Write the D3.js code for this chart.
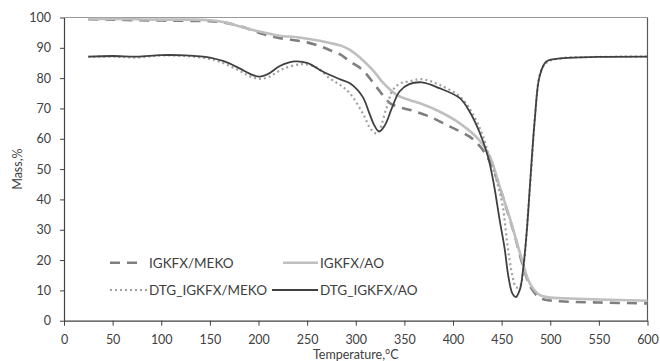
<!DOCTYPE html>
<html>
<head>
<meta charset="utf-8">
<script src="https://cdn.jsdelivr.net/npm/d3@7"></script>
<style>
  body { margin: 0; background: #fff; }
  svg text { font-family: Lato, "Open Sans", sans-serif; fill: #404040; }
</style>
</head>
<body>
<svg id="chart" width="660" height="361"></svg>
<script>
// TG / DTG curves
const tempMeko = [25, 50, 75, 100, 125, 150, 165, 180, 190, 200, 210, 222, 235, 250, 263, 273, 284, 294, 307, 322, 335, 345, 356, 376, 397, 417, 428, 437, 446, 455, 464, 472, 480, 488, 495, 510, 550, 600];
const massMeko = [99.4, 99.3, 99.1, 99.0, 98.9, 98.8, 98.3, 97.2, 96.2, 95.0, 94.1, 93.2, 92.6, 91.8, 90.6, 89.3, 87.8, 85.5, 82.7, 76.8, 71.8, 70.4, 69.5, 67.3, 64.0, 60.7, 57.4, 53.0, 46.0, 37.0, 27.5, 18.0, 11.0, 7.8, 6.9, 6.4, 6.0, 5.7];

const tempAo = [25, 50, 75, 100, 125, 150, 165, 181, 190, 201, 212, 222, 242, 263, 273, 284, 294, 307, 318, 328, 342, 355, 366, 386, 407, 427, 438, 448, 458, 469, 479, 489, 500, 513, 550, 600];
const massAo = [99.5, 99.5, 99.4, 99.3, 99.3, 99.1, 98.4, 97.0, 96.2, 95.4, 94.6, 94.0, 93.4, 92.3, 91.6, 90.8, 89.3, 86.0, 82.5, 78.5, 74.5, 72.8, 71.7, 69.0, 65.1, 59.6, 54.1, 44.2, 34.3, 22.2, 12.3, 8.5, 7.6, 7.4, 7.0, 6.6];

const tempDtgMeko = [25, 50, 75, 100, 125, 150, 165, 180, 190, 200, 210, 225, 245, 260, 273, 285, 294, 307, 316, 322, 331, 338, 346, 355, 367, 386, 407, 420, 431, 438, 445, 451, 456, 461, 465, 469, 473, 477, 481, 485, 490, 497, 513, 550, 600];
const dtgMeko = [87.0, 87.1, 86.8, 87.5, 87.3, 86.3, 84.8, 82.5, 80.8, 79.8, 80.3, 83.0, 84.6, 83.5, 80.0, 77.5, 75.0, 68.5, 63.0, 61.8, 69.5, 76.0, 78.3, 78.9, 79.7, 77.8, 73.9, 68.4, 60.7, 53.0, 46.0, 38.0, 25.0, 15.0, 11.0, 11.5, 19.0, 35.0, 52.0, 70.0, 82.0, 85.3, 86.6, 87.0, 87.1];

const tempDtgAo = [25, 50, 75, 100, 125, 150, 165, 180, 192, 201, 210, 222, 237, 250, 263, 273, 284, 294, 307, 314, 319, 324, 330, 337, 345, 355, 368, 386, 407, 417, 427, 436, 442, 448, 453, 457, 461, 464.5, 469, 472, 476, 479, 484, 489, 496, 513, 550, 600];
const dtgAo = [87.1, 87.3, 87.1, 87.6, 87.5, 86.8, 85.5, 83.3, 81.3, 80.5, 81.4, 84.0, 85.5, 85.0, 82.7, 81.1, 79.6, 78.3, 73.9, 68.4, 64.5, 62.4, 64.5, 70.0, 75.6, 78.0, 78.6, 76.7, 73.4, 69.0, 62.4, 54.1, 45.0, 33.2, 24.0, 14.5, 9.0, 7.8, 10.5, 16.7, 30.0, 44.0, 66.0, 80.5, 85.5, 86.6, 87.0, 87.1];

const xTicks = [0, 50, 100, 150, 200, 250, 300, 350, 400, 450, 500, 550, 600];
const yTicks = [0, 10, 20, 30, 40, 50, 60, 70, 80, 90, 100];

const series = [
  { name: 'IGKFX/MEKO', t: tempMeko, v: massMeko, color: '#7f7f7f', width: 2.6, dash: '10,7' },
  { name: 'IGKFX/AO', t: tempAo, v: massAo, color: '#bfbfbf', width: 2.6, dash: null },
  { name: 'DTG_IGKFX/MEKO', t: tempDtgMeko, v: dtgMeko, color: '#a0a0a0', width: 2.2, dash: '2,3' },
  { name: 'DTG_IGKFX/AO', t: tempDtgAo, v: dtgAo, color: '#404040', width: 1.8, dash: null }
];

const margin = { left: 64, right: 12.5, top: 17.5, bottom: 40.3 };
const width = 660, height = 361;

const svg = d3.select('#chart');

const x = d3.scaleLinear().domain([0, 600]).range([margin.left, width - margin.right]);
const y = d3.scaleLinear().domain([0, 100]).range([height - margin.bottom, margin.top]);

// top and right frame
svg.append('line')
  .attr('x1', x(0)).attr('x2', x(600)).attr('y1', y(100)).attr('y2', y(100))
  .attr('stroke', '#9a9a9a').attr('stroke-width', 1);
svg.append('line')
  .attr('x1', x(600)).attr('x2', x(600)).attr('y1', y(100)).attr('y2', y(0))
  .attr('stroke', '#595959').attr('stroke-width', 1.2);

const line = d3.line()
  .x(d => x(d[0]))
  .y(d => y(d[1]))
  .curve(d3.curveCatmullRom.alpha(0.5));

svg.append('g')
  .selectAll('path')
  .data(series)
  .join('path')
  .attr('fill', 'none')
  .attr('stroke', d => d.color)
  .attr('stroke-width', d => d.width)
  .attr('stroke-dasharray', d => d.dash)
  .attr('d', d => line(d.t.map((t, i) => [t, d.v[i]])));

// axes
const xAxis = svg.append('g')
  .attr('transform', `translate(0,${y(0)})`)
  .call(d3.axisBottom(x).tickValues(xTicks).tickSize(5).tickPadding(9).tickSizeOuter(0));
const yAxis = svg.append('g')
  .attr('transform', `translate(${x(0)},0)`)
  .call(d3.axisLeft(y).tickValues(yTicks).tickSize(4).tickPadding(9).tickSizeOuter(0));

[xAxis, yAxis].forEach(g => {
  g.select('.domain').attr('stroke', '#404040').attr('stroke-width', 1.2);
  g.selectAll('.tick line').attr('stroke', '#404040');
  g.selectAll('.tick text').attr('font-size', 12.5).attr('fill', '#404040')
    .style('font-family', 'Lato, "Open Sans", sans-serif');
});

// axis titles
svg.append('text')
  .attr('x', (x(0) + x(600)) / 2)
  .attr('y', 358.5)
  .attr('text-anchor', 'middle')
  .attr('font-size', 12.5)
  .text('Temperature,°C');

svg.append('text')
  .attr('transform', `translate(22,${(y(0) + y(100)) / 2}) rotate(-90)`)
  .attr('text-anchor', 'middle')
  .attr('font-size', 12.5)
  .text('Mass,%');

// legend
const legendPos = [
  { x1: 110, x2: 139, tx: 149, y: 262.7 },
  { x1: 283, x2: 318, tx: 320, y: 262.7 },
  { x1: 110, x2: 147, tx: 149, y: 290 },
  { x1: 272, x2: 318, tx: 320, y: 290 }
];

const legend = svg.append('g')
  .selectAll('g')
  .data(series)
  .join('g');

legend.append('line')
  .attr('x1', (d, i) => legendPos[i].x1)
  .attr('x2', (d, i) => legendPos[i].x2)
  .attr('y1', (d, i) => legendPos[i].y)
  .attr('y2', (d, i) => legendPos[i].y)
  .attr('stroke', d => d.color)
  .attr('stroke-width', d => d.width)
  .attr('stroke-dasharray', d => d.dash);

legend.append('text')
  .attr('x', (d, i) => legendPos[i].tx)
  .attr('y', (d, i) => legendPos[i].y)
  .attr('dy', '0.36em')
  .attr('font-size', 13.5)
  .text(d => d.name);
</script>
</body>
</html>
